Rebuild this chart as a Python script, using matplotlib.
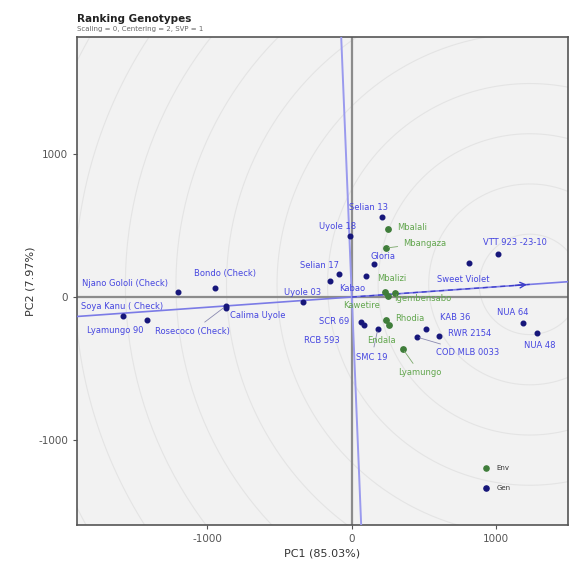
import numpy as np
import matplotlib
matplotlib.use("Agg")
import matplotlib.pyplot as plt

plt.rcParams["axes.unicode_minus"] = False

# genotype scores (PC1, PC2)
gen_names = ["Njano Gololi (Check)", "Bondo (Check)", "Soya Kanu ( Check)", "Lyamungo 90",
             "Calima Uyole", "Rosecoco (Check)", "Uyole 03", "Selian 17", "Kabao",
             "Uyole 18", "Selian 13", "Gloria", "", "Sweet Violet", "VTT 923 -23-10",
             "NUA 64", "NUA 48", "KAB 36", "RWR 2154", "COD MLB 0033", "SCR 69",
             "RCB 593", "SMC 19"]
gen_pc1 = [-1204, -948, -1585, -1419, -872, -872, -339, -90, -152,
           -14, 208, 152, 97, 810, 1010,
           1183, 1280, 512, 602, 450, 83,
           62, 180]
gen_pc2 = [35, 63, -132, -160, -77, -63, -35, 160, 111,
           425, 557, 230, 146, 237, 300,
           -181, -251, -223, -272, -279, -195,
           -174, -223]

# environment scores
env_names = ["Mbalali", "Mbangaza", "Mbalizi", "Igembensabo", "Kawetire",
             "Rhodia", "Endala", "Lyamungo"]
env_pc1 = [249, 235, 228, 298, 249, 235, 256, 353]
env_pc2 = [474, 341, 35, 28, 7, -160, -195, -362]

# average environment axis
aea_end = (1232, 88)
aea_slope = 0.0713
perp_slope = -24.6

# label offsets in pixels (layout only)
gen_off = [(-53, 8), (10, 14), (-1, 9), (-32, -11), (32, -7), (-33, -25), (0, 10),
           (-19, 9), (22, -7), (-12, 10), (-13, 10), (9, 8), (0, 0), (-6, -16),
           (17, 11), (-10, 10), (3, -12), (29, 12), (31, 3), (51, -15), (-30, 3),
           (-39, -19), (-6, -28)]
gen_link = {"Rosecoco (Check)", "COD MLB 0033", "SMC 19"}
env_off = [(24, 2), (39, 5), (7, 13), (28, -5), (-26, -9), (24, 1), (-7, -16), (17, -24)]
env_link = {"Mbangaza", "Lyamungo"}

blue_txt = "#4646e0"
green_txt = "#62a64e"

fig = plt.figure(figsize=(5.72, 5.63), dpi=100)
ax = fig.add_axes([0.1346, 0.0675, 0.858, 0.8667])
ax.set_facecolor("#f2f2f2")
xlim = (-1903, 1495)
ylim = (-1589, 1812)
ax.set_xlim(xlim)
ax.set_ylim(ylim)

# concentric circles round the ideal point
t = np.linspace(0, 2 * np.pi, 400)
for r in np.arange(350, 4000, 350):
    ax.plot(aea_end[0] + r * np.cos(t), aea_end[1] + r * np.sin(t),
            color="#e4e4e4", lw=0.8, zorder=1)

ax.axhline(0, color="#8c8c8c", lw=1.6, zorder=2)
ax.axvline(0, color="#8c8c8c", lw=1.6, zorder=2)

xs = np.array(xlim)
ax.plot(xs, aea_slope * xs, color="#7b7be6", lw=1.2, zorder=3)
ys = np.array(ylim)
ax.plot(ys / perp_slope, ys, color="#9a9aee", lw=1.4, zorder=3)
ax.plot([0, aea_end[0]], [0, aea_end[1]], color="#3d3dc8", lw=0.9, ls=(0, (4, 3)), zorder=3)
ax.annotate("", xy=aea_end, xytext=(aea_end[0] - 120, aea_end[1] - 120 * aea_slope),
            arrowprops=dict(arrowstyle="->", color="#3d3dc8", lw=1), zorder=4)

ax.scatter(gen_pc1, gen_pc2, s=11, color="#16167a", zorder=5)
ax.scatter(env_pc1, env_pc2, s=15, color="#3f7d3a", zorder=5)

for name, x, y, (dx, dy) in zip(gen_names, gen_pc1, gen_pc2, gen_off):
    if not name:
        continue
    ap = dict(arrowstyle="-", color="#8a8ab0", lw=0.6) if name in gen_link else None
    ax.annotate(name, (x, y), xytext=(dx * 0.72, dy * 0.72), textcoords="offset points",
                ha="center", va="center", fontsize=6, color=blue_txt,
                arrowprops=ap, zorder=6)

for name, x, y, (dx, dy) in zip(env_names, env_pc1, env_pc2, env_off):
    ap = dict(arrowstyle="-", color="#7aa86a", lw=0.6) if name in env_link else None
    ax.annotate(name, (x, y), xytext=(dx * 0.72, dy * 0.72), textcoords="offset points",
                ha="center", va="center", fontsize=6, color=green_txt,
                arrowprops=ap, zorder=6)

# legend
ax.scatter([0.833], [0.117], s=14, color="#3f7d3a", transform=ax.transAxes, zorder=7)
ax.scatter([0.833], [0.076], s=14, color="#16167a", transform=ax.transAxes, zorder=7)
ax.text(0.855, 0.117, "Env", transform=ax.transAxes, fontsize=5, va="center", color="#333333")
ax.text(0.855, 0.076, "Gen", transform=ax.transAxes, fontsize=5, va="center", color="#333333")

ax.set_xticks([-1000, 0, 1000])
ax.set_yticks([-1000, 0, 1000])
ax.tick_params(labelsize=7.5, colors="#555555", length=3, width=0.8)
ax.set_xlabel("PC1 (85.03%)", fontsize=8, color="#333333", labelpad=3)
ax.set_ylabel("PC2 (7.97%)", fontsize=8, color="#333333", labelpad=2)
for s in ax.spines.values():
    s.set_color("#555555")
    s.set_linewidth(1.2)

fig.text(0.1346, 0.967, "Ranking Genotypes", fontsize=7.5, fontweight="bold", color="#222222", va="center")
fig.text(0.1346, 0.948, "Scaling = 0, Centering = 2, SVP = 1", fontsize=5, color="#666666", va="center")

fig.savefig("out.png", dpi=100)
